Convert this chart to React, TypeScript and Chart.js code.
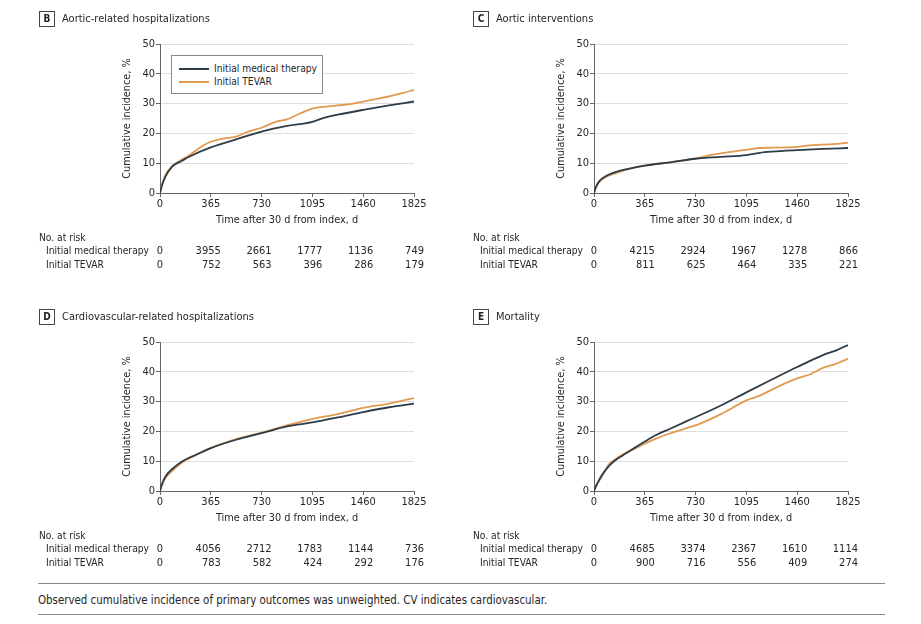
import React, { useEffect, useRef } from "react";
import { Chart, registerables } from "chart.js";
Chart.register(...registerables);

// ---------- shared ----------
const xTicks = [0, 365, 730, 1095, 1460, 1825];
const yTicks = [0, 10, 20, 30, 40, 50];
const groupNames = ["Initial medical therapy", "Initial TEVAR"];
const xTitle = "Time after 30 d from index, d";
const yTitle = "Cumulative incidence, %";
const footnote =
  "Observed cumulative incidence of primary outcomes was unweighted. CV indicates cardiovascular.";

// ---------- Panel B: Aortic-related hospitalizations ----------
const bMedT = [0, 12, 38, 86, 158, 206, 365, 547, 730, 912, 1095, 1190, 1278, 1460, 1645, 1825];
const bMedV = [0, 2.2, 5.4, 8.8, 10.8, 12.1, 15.3, 18.0, 20.6, 22.5, 23.9, 25.4, 26.3, 27.9, 29.4, 30.7];
const bTevT = [0, 12, 38, 86, 158, 206, 302, 365, 446, 547, 638, 730, 830, 912, 998, 1095, 1190, 1278, 1381, 1460, 1549, 1645, 1741, 1825];
const bTevV = [0, 2.4, 6.0, 9.0, 11.2, 12.5, 15.7, 17.2, 18.2, 18.9, 20.7, 21.9, 23.9, 24.7, 26.5, 28.3, 29.0, 29.4, 29.9, 30.7, 31.5, 32.4, 33.5, 34.6];
const bRiskMed = [0, 3955, 2661, 1777, 1136, 749];
const bRiskTev = [0, 752, 563, 396, 286, 179];

// ---------- Panel C: Aortic interventions ----------
const cMedT = [0, 12, 38, 86, 158, 254, 365, 547, 730, 912, 1095, 1190, 1278, 1460, 1645, 1825];
const cMedV = [0, 1.8, 4.0, 5.7, 7.1, 8.2, 9.2, 10.3, 11.5, 12.1, 12.7, 13.5, 13.9, 14.4, 14.8, 15.1];
const cTevT = [0, 12, 38, 86, 158, 254, 365, 547, 730, 830, 912, 998, 1095, 1190, 1278, 1460, 1549, 1645, 1741, 1825];
const cTevV = [0, 1.6, 3.7, 5.4, 6.7, 8.1, 9.2, 10.3, 11.6, 12.7, 13.3, 13.9, 14.5, 15.1, 15.2, 15.5, 16.0, 16.2, 16.5, 16.9];
const cRiskMed = [0, 4215, 2924, 1967, 1278, 866];
const cRiskTev = [0, 811, 625, 464, 335, 221];

// ---------- Panel D: Cardiovascular-related hospitalizations ----------
const dMedT = [0, 12, 38, 86, 158, 254, 365, 547, 730, 912, 1095, 1278, 1460, 1645, 1825];
const dMedV = [0, 2.0, 4.8, 7.3, 9.9, 12.1, 14.4, 17.2, 19.4, 21.7, 23.0, 24.7, 26.5, 28.1, 29.3];
const dTevT = [0, 12, 38, 86, 158, 254, 365, 547, 730, 912, 1095, 1278, 1460, 1645, 1825];
const dTevV = [0, 1.7, 4.3, 6.7, 9.6, 11.9, 14.4, 17.4, 19.6, 22.0, 24.2, 25.8, 27.9, 29.3, 31.2];
const dRiskMed = [0, 4056, 2712, 1783, 1144, 736];
const dRiskTev = [0, 783, 582, 424, 292, 176];

// ---------- Panel E: Mortality ----------
const eMedT = [0, 12, 38, 62, 110, 158, 206, 254, 302, 365, 446, 547, 674, 912, 1095, 1278, 1460, 1645, 1741, 1825];
const eMedV = [0, 1.5, 3.8, 5.7, 8.5, 10.5, 11.9, 13.4, 14.8, 16.6, 18.8, 20.9, 23.6, 28.7, 33.1, 37.4, 41.6, 45.6, 47.2, 49.0];
const eTevT = [0, 12, 38, 62, 110, 158, 206, 254, 302, 365, 446, 542, 686, 746, 912, 1095, 1190, 1278, 1381, 1460, 1549, 1645, 1741, 1825];
const eTevV = [0, 1.2, 3.5, 5.3, 9.1, 10.8, 12.2, 13.3, 14.4, 15.9, 17.6, 19.3, 21.4, 22.3, 25.8, 30.4, 32.0, 34.0, 36.3, 37.8, 39.1, 41.3, 42.7, 44.4];
const eRiskMed = [0, 4685, 3374, 2367, 1610, 1114];
const eRiskTev = [0, 900, 716, 556, 409, 274];

// ---------- styles ----------
const FONT = "'DejaVu Sans Condensed', 'DejaVu Sans', sans-serif";
const DARK = "#2d3c48";
const ORANGE = "#e19a50";
const TEXT = "#262626";
const AXIS = "#666";
const GRID = "#dedede";
const FS_TICK = 11;
const FS_AXT = 10.8;
const FS_TAB = 10.2;

const pts = (t: number[], v: number[]) => t.map((x, i) => ({ x, y: v[i] }));

type PanelProps = {
  left: number;
  top: number;
  letter: string;
  title: string;
  medT: number[];
  medV: number[];
  tevT: number[];
  tevV: number[];
  riskMed: number[];
  riskTev: number[];
  legend?: boolean;
};

const CW = 460;
const CH = 285;

function Panel(p: PanelProps) {
  const ref = useRef<HTMLCanvasElement>(null);
  useEffect(() => {
    const riskPlugin = {
      id: "riskTable",
      afterDraw(chart: any) {
        const ctx = chart.ctx as CanvasRenderingContext2D;
        const xs = chart.scales.x;
        ctx.save();
        ctx.font = `${FS_TAB}px ${FONT}`;
        ctx.fillStyle = TEXT;
        ctx.textBaseline = "middle";
        ctx.textAlign = "left";
        ctx.fillText("No. at risk", 39, 238);
        ctx.fillText(groupNames[0], 46, 251.5);
        ctx.fillText(groupNames[1], 46, 265);
        const rows = [p.riskMed, p.riskTev];
        const ys = [251.5, 265];
        ctx.font = `${FS_TICK}px ${FONT}`;
        rows.forEach((row, r) => {
          row.forEach((n, i) => {
            const px = xs.getPixelForValue(xTicks[i]);
            if (i === 0) {
              ctx.textAlign = "center";
              ctx.fillText(String(n), px, ys[r]);
            } else {
              ctx.textAlign = "right";
              ctx.fillText(String(n), px + 10, ys[r]);
            }
          });
        });
        ctx.restore();
      },
    };
    const chart = new Chart(ref.current!, {
      type: "line",
      data: {
        datasets: [
          {
            label: groupNames[0],
            data: pts(p.medT, p.medV),
            borderColor: DARK,
            borderWidth: 1.8,
            pointRadius: 0,
            cubicInterpolationMode: "monotone",
          },
          {
            label: groupNames[1],
            data: pts(p.tevT, p.tevV),
            borderColor: ORANGE,
            borderWidth: 1.8,
            pointRadius: 0,
            cubicInterpolationMode: "monotone",
          },
        ],
      },
      options: {
        responsive: false,
        animation: false,
        layout: { padding: { left: 121, right: 46, top: 44, bottom: CH - 193 - 34 } },
        plugins: { legend: { display: false }, tooltip: { enabled: false } },
        scales: {
          x: {
            type: "linear",
            min: 0,
            max: 1825,
            afterBuildTicks: (s: any) => {
              s.ticks = xTicks.map((v) => ({ value: v }));
            },
            afterFit: (s: any) => {
              s.height = 34;
            },
            ticks: {
              autoSkip: false,
              maxRotation: 0,
              padding: 1,
              color: TEXT,
              font: { family: FONT, size: FS_TICK },
              callback: (v: any) => String(v),
            },
            grid: { drawOnChartArea: false, tickLength: 4, tickColor: AXIS },
            border: { color: AXIS, width: 1 },
            title: { display: true, text: xTitle, color: TEXT, padding: 0, font: { family: FONT, size: FS_AXT } },
          },
          y: {
            type: "linear",
            min: 0,
            max: 50,
            afterBuildTicks: (s: any) => {
              s.ticks = yTicks.map((v) => ({ value: v }));
            },
            afterFit: (s: any) => {
              s.width = 39;
            },
            ticks: { padding: 1, color: TEXT, font: { family: FONT, size: FS_TICK }, callback: (v: any) => String(v) },
            grid: { color: GRID, tickLength: 4, tickColor: AXIS },
            border: { color: AXIS, width: 1 },
            title: { display: true, text: yTitle, color: TEXT, padding: 0, font: { family: FONT, size: FS_AXT } },
          },
        },
      },
      plugins: [riskPlugin],
    } as any);
    return () => chart.destroy();
  }, []);

  return (
    <>
      <canvas
        ref={ref}
        width={CW}
        height={CH}
        style={{ position: "absolute", left: p.left, top: p.top, width: CW, height: CH }}
      />
      <div
        style={{
          position: "absolute",
          left: p.left + 39,
          top: p.top + 11,
          width: 14,
          height: 14,
          border: "1px solid #444",
          font: `bold 10px ${FONT}`,
          color: "#222",
          textAlign: "center",
          lineHeight: "14px",
        }}
      >
        {p.letter}
      </div>
      <div
        style={{
          position: "absolute",
          left: p.left + 62,
          top: p.top + 10,
          font: `11px ${FONT}`,
          color: TEXT,
          lineHeight: "17px",
          whiteSpace: "nowrap",
        }}
      >
        {p.title}
      </div>
      {p.legend && (
        <div
          style={{
            position: "absolute",
            left: p.left + 171,
            top: p.top + 55,
            width: 150,
            height: 37,
            border: "1px solid #8a8a8a",
            background: "#fff",
            font: `${FS_TAB}px ${FONT}`,
            color: TEXT,
          }}
        >
          {[DARK, ORANGE].map((c, i) => (
            <div key={i} style={{ position: "absolute", left: 7, top: 6 + i * 13, height: 13, display: "flex", alignItems: "center", whiteSpace: "nowrap" }}>
              <span style={{ display: "inline-block", width: 30, height: 2, background: c, marginRight: 5 }} />
              {groupNames[i]}
            </div>
          ))}
        </div>
      )}
    </>
  );
}

export default function App() {
  return (
    <div style={{ position: "absolute", left: 0, top: 0, width: 921, height: 624, background: "#fff", overflow: "hidden" }}>
      <Panel left={0} top={0} letter="B" title="Aortic-related hospitalizations" medT={bMedT} medV={bMedV} tevT={bTevT} tevV={bTevV} riskMed={bRiskMed} riskTev={bRiskTev} legend />
      <Panel left={434} top={0} letter="C" title="Aortic interventions" medT={cMedT} medV={cMedV} tevT={cTevT} tevV={cTevV} riskMed={cRiskMed} riskTev={cRiskTev} />
      <Panel left={0} top={298} letter="D" title="Cardiovascular-related hospitalizations" medT={dMedT} medV={dMedV} tevT={dTevT} tevV={dTevV} riskMed={dRiskMed} riskTev={dRiskTev} />
      <Panel left={434} top={298} letter="E" title="Mortality" medT={eMedT} medV={eMedV} tevT={eTevT} tevV={eTevV} riskMed={eRiskMed} riskTev={eRiskTev} />
      <div style={{ position: "absolute", left: 38, top: 583, width: 847, height: 0, borderTop: "1.5px solid #8a8a8a" }} />
      <div style={{ position: "absolute", left: 38, top: 592, font: `11.4px ${FONT}`, color: TEXT, lineHeight: "16px", whiteSpace: "nowrap" }}>
        {footnote}
      </div>
      <div style={{ position: "absolute", left: 38, top: 614, width: 847, height: 0, borderTop: "1.5px solid #8a8a8a" }} />
    </div>
  );
}
